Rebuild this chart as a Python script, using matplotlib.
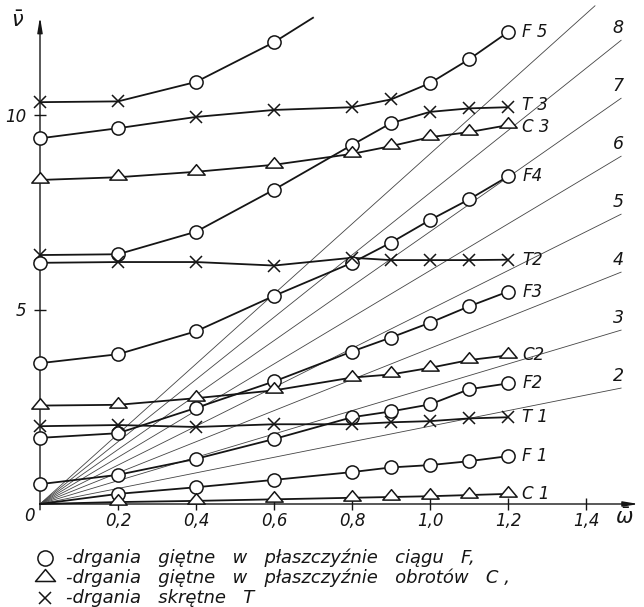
import numpy as np
import matplotlib.pyplot as plt
from matplotlib.path import Path

ink = '#151515'

# omega values of the measured points
w = [0, 0.2, 0.4, 0.6, 0.8, 0.9, 1.0, 1.1, 1.2]

# curves (nu values), marker codes: o circle, ^ triangle, x cross, . none
top_w = [0, 0.2, 0.4, 0.6, 0.70]
top_v = [10.33, 10.35, 10.85, 11.87, 12.5]
top_m = "xxoo."

F5_v = [9.4, 9.66, 9.95, 10.13, 10.2, 10.4, 10.82, 11.43, 12.13]
F5_m = "ooxxxxooo"
T3_v = [6.4, 6.42, 7.0, 8.08, 9.23, 9.79, 10.08, 10.17, 10.2]
T3_m = "xoooooxxx"
C3_v = [8.33, 8.4, 8.54, 8.72, 9.0, 9.2, 9.43, 9.56, 9.74]
C3_m = "^^^^^^^^^"
F4_v = [3.62, 3.85, 4.44, 5.35, 6.2, 6.72, 7.3, 7.83, 8.42]
F4_m = "ooooooooo"
T2_v = [6.2, 6.22, 6.22, 6.13, 6.33, 6.27, 6.27, 6.27, 6.28]
T2_m = "oxxxxxxxx"
F3_v = [1.7, 1.82, 2.47, 3.15, 3.92, 4.28, 4.66, 5.08, 5.46]
F3_m = "ooooooooo"
C2_v = [2.53, 2.55, 2.72, 2.92, 3.25, 3.33, 3.5, 3.7, 3.82]
C2_m = "^^^^^^^^^"
F2_v = [0.51, 0.75, 1.16, 1.67, 2.23, 2.38, 2.56, 2.95, 3.1]
F2_m = "ooooooooo"
T1_v = [2.0, 2.03, 1.98, 2.05, 2.05, 2.1, 2.13, 2.2, 2.23]
T1_m = "xxxxxxxxx"
F1_v = [0.0, 0.26, 0.43, 0.62, 0.82, 0.94, 1.0, 1.1, 1.23]
F1_m = ".oooooooo"
C1_v = [0.0, 0.05, 0.08, 0.12, 0.16, 0.18, 0.2, 0.23, 0.26]
C1_m = ".^^^^^^^^"

curve_labels = ['F 5', 'T 3', 'C 3', 'F4', 'T2', 'F3', 'C2', 'F2', 'T 1', 'F 1', 'C 1']

# rays nu = k * omega
ray_k = [2, 3, 4, 5, 6, 7, 8, 9]
ray_end = [1.49, 1.49, 1.49, 1.49, 1.49, 1.49, 1.49, 1.423]
ray_labels = ['2', '3', '4', '5', '6', '7', '8', '']

xtick_vals = [0.2, 0.4, 0.6, 0.8, 1.0, 1.2, 1.4]
xtick_labels = ['0,2', '0,4', '0,6', '0,8', '1,0', '1,2', '1,4']
ytick_vals = [5, 10]
ytick_labels = ['5', '10']

legend_lines = [
    '-drgania   giętne   w   płaszczyźnie   ciągu   F,',
    '-drgania   giętne   w   płaszczyźnie   obrotów   C ,',
    '-drgania   skrętne   T',
]
legend_marks = ['o', '^', 'x']

plt.rcParams['font.family'] = ['DejaVu Sans']

fig = plt.figure(figsize=(6.44, 6.07), dpi=100)
ax = fig.add_axes([40/644, 103/607, 597/644, 494/607])
ax.set_xlim(0, 597/390)
ax.set_ylim(0, 494/38.9)
for s in ax.spines.values():
    s.set_visible(False)

tri = Path([(-1, -0.3), (1, -0.3), (0, 0.9), (-1, -0.3)],
           [Path.MOVETO, Path.LINETO, Path.LINETO, Path.CLOSEPOLY])


def put_marker(x, y, m, axis=ax, trans=None, scale=1.0):
    kw = dict(color=ink, zorder=5, clip_on=False, linestyle='none')
    if trans is not None:
        kw['transform'] = trans
    if m == 'o':
        axis.plot(x, y, marker='o', ms=9.5*scale, mfc='white', mec=ink, mew=1.1, **kw)
    elif m == '^':
        axis.plot(x, y, marker=tri, ms=12.5*scale, mfc='white', mec=ink, mew=1.1, **kw)
    elif m == 'x':
        axis.plot(x, y, marker='x', ms=8*scale, mec=ink, mew=1.1, **kw)


def draw(wv, vv, mk):
    ax.plot(wv, vv, color=ink, lw=1.3, zorder=3, clip_on=False)
    for x, y, m in zip(wv, vv, mk):
        put_marker(x, y, m)


# rays
for k, e, lab in zip(ray_k, ray_end, ray_labels):
    ax.plot([0, e], [0, k * e], color='#444444', lw=0.6, zorder=2, clip_on=False)
    if lab:
        ax.text(1.482, k * e + 0.32, lab, fontsize=12.5, style='italic',
                ha='center', va='center', color=ink)

draw(top_w, top_v, top_m)
series = [(F5_v, F5_m), (T3_v, T3_m), (C3_v, C3_m), (F4_v, F4_m), (T2_v, T2_m),
          (F3_v, F3_m), (C2_v, C2_m), (F2_v, F2_m), (T1_v, T1_m), (F1_v, F1_m),
          (C1_v, C1_m)]
for (vv, mk), lab in zip(series, curve_labels):
    draw(w, vv, mk)
    dy = 0.05 if lab == 'T 3' else (-0.05 if lab == 'C 3' else 0.0)
    ax.text(1.237, vv[-1] + dy, lab, fontsize=12,
            style='italic', ha='left', va='center', color=ink)

# axes with arrows
ax.annotate('', xy=(1.535, 0), xytext=(0, 0), annotation_clip=False,
            arrowprops=dict(arrowstyle='-|>,head_length=0.9,head_width=0.15',
                            lw=1.0, color=ink, shrinkA=0, shrinkB=0))
ax.annotate('', xy=(0, 12.52), xytext=(0, -0.15), annotation_clip=False,
            arrowprops=dict(arrowstyle='-|>,head_length=0.9,head_width=0.15',
                            lw=1.0, color=ink, shrinkA=0, shrinkB=0))

ax.set_xticks(xtick_vals)
ax.set_xticklabels(xtick_labels)
ax.set_yticks(ytick_vals)
ax.set_yticklabels(ytick_labels)
ax.tick_params(direction='inout', length=8, width=1, color=ink, labelcolor=ink,
               labelsize=12, pad=2)
ax.tick_params(axis='y', pad=6)
for lab in ax.get_xticklabels() + ax.get_yticklabels():
    lab.set_style('italic')

ax.text(-0.026, -0.3, '0', fontsize=12, style='italic', ha='center', va='center', color=ink)
ax.text(-0.058, 12.42, r'$\bar{\nu}$', fontsize=15, ha='center', va='center', color=ink)
ax.text(1.498, -0.36, r'$\bar{\omega}$', fontsize=15, ha='center', va='center', color=ink)

# legend under the plot
for i, (txt, m) in enumerate(zip(legend_lines, legend_marks)):
    yy = 1 - (558 + 20 * i) / 607
    put_marker(45/644, yy, m, axis=fig.axes[0], trans=fig.transFigure, scale=1.15)
    fig.text(66/644, yy, txt, fontsize=13, style='italic', ha='left', va='center', color=ink)

fig.savefig('out.png', dpi=100)
